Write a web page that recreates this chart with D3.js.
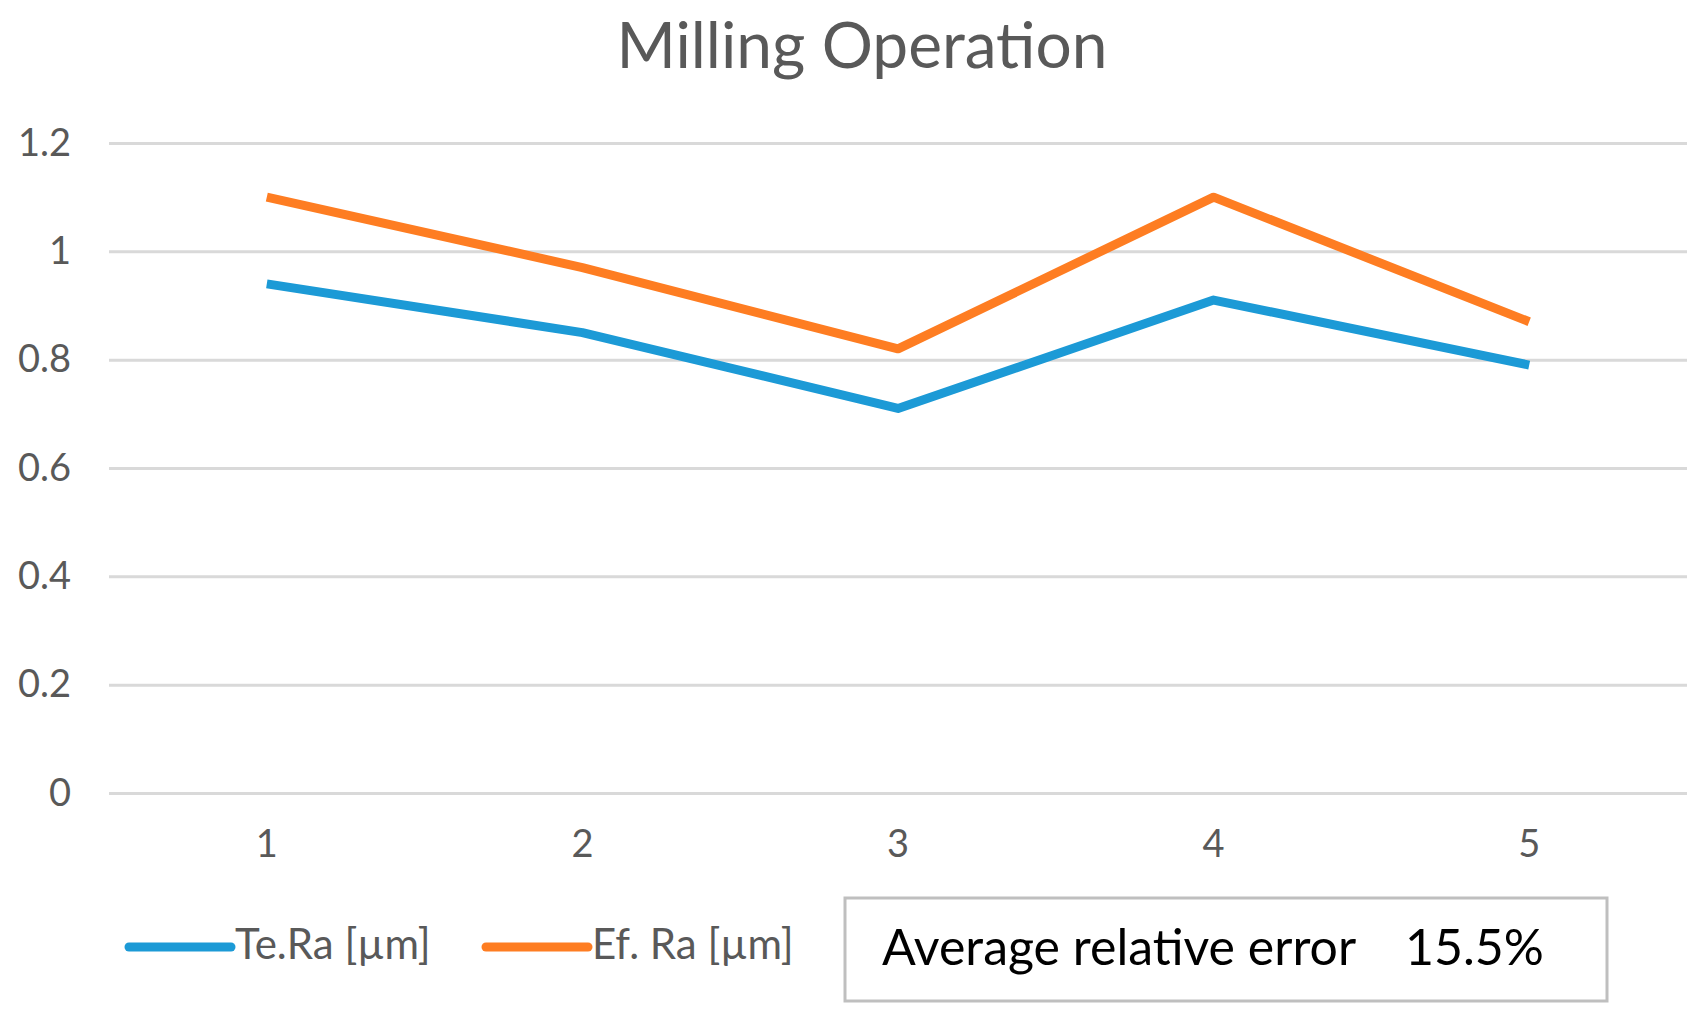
<!DOCTYPE html>
<html>
<head>
<meta charset="utf-8">
<script src="https://cdn.jsdelivr.net/npm/d3@7"></script>
<style>
    html, body { margin: 0; padding: 0; background: #fff; }
    svg { display: block; font-family: Lato, "Liberation Sans", sans-serif; }
</style>
</head>
<body>
<div id="chart"></div>
<script>
// Chart data
const categories = ["1", "2", "3", "4", "5"];
const teRa = [0.94, 0.85, 0.71, 0.91, 0.79];
const efRa = [1.10, 0.97, 0.82, 1.10, 0.87];
const yTicks = [0, 0.2, 0.4, 0.6, 0.8, 1, 1.2];
const seriesNames = ["Te.Ra [µm]", "Ef. Ra [µm]"];
const chartTitle = "Milling Operation";
const errorLabel = "Average relative error";
const errorValue = "15.5%";

(function() {
    const width = 1703, height = 1027;
    const margin = { top: 143, right: 16, bottom: 234, left: 109 };
    const plotW = width - margin.left - margin.right;
    const plotH = height - margin.top - margin.bottom;

    const blue = "#1c9ad6";
    const orange = "#fe7d22";
    const textGray = "#595959";

    const svg = d3.select("#chart").append("svg")
        .attr("width", width)
        .attr("height", height);

    // Title
    svg.append("text")
        .attr("x", 862)
        .attr("y", 68)
        .attr("text-anchor", "middle")
        .attr("fill", textGray)
        .style("font-size", "64px")
        .text(chartTitle);

    const g = svg.append("g").attr("transform", `translate(${margin.left},${margin.top})`);

    // Scales
    const xScale = d3.scaleBand().domain(categories).range([0, plotW]);
    const yScale = d3.scaleLinear().domain([0, 1.2]).range([plotH, 0]);

    // Gridlines + y axis
    const yAxis = d3.axisLeft(yScale).tickValues(yTicks).tickSize(-plotW).tickPadding(38)
        .tickFormat(d3.format("~g"));
    const yAxisG = g.append("g").call(yAxis);
    yAxisG.select(".domain").remove();
    yAxisG.selectAll("line").attr("stroke", "#d9d9d9").attr("stroke-width", 3);
    yAxisG.selectAll("text")
        .attr("fill", textGray)
        .style("font-size", "38px")
        .style("font-family", "Lato, sans-serif");

    // X axis labels
    const xAxis = d3.axisBottom(xScale).tickSize(0).tickPadding(37);
    const xAxisG = g.append("g").attr("transform", `translate(0,${plotH})`).call(xAxis);
    xAxisG.select(".domain").remove();
    xAxisG.selectAll("text")
        .attr("fill", textGray)
        .style("font-size", "38px")
        .style("font-family", "Lato, sans-serif");

    // Lines
    const line = d3.line()
        .x((d, i) => xScale(categories[i]) + xScale.bandwidth() / 2)
        .y(d => yScale(d));

    [[teRa, blue], [efRa, orange]].forEach(([values, color]) => {
        g.append("path")
            .datum(values)
            .attr("fill", "none")
            .attr("stroke", color)
            .attr("stroke-width", 9)
            .attr("stroke-linejoin", "round")
            .attr("d", line);
    });

    // Legend
    const legendItems = [
        { name: seriesNames[0], color: blue, x: 129 },
        { name: seriesNames[1], color: orange, x: 486 }
    ];
    const legend = svg.append("g");
    legendItems.forEach(item => {
        legend.append("line")
            .attr("x1", item.x).attr("x2", item.x + 102)
            .attr("y1", 947).attr("y2", 947)
            .attr("stroke", item.color)
            .attr("stroke-width", 9)
            .attr("stroke-linecap", "round");
        legend.append("text")
            .attr("x", item.x + 106)
            .attr("y", 959)
            .attr("fill", textGray)
            .style("font-size", "42px")
            .text(item.name);
    });

    // Error box
    svg.append("rect")
        .attr("x", 845).attr("y", 898)
        .attr("width", 762).attr("height", 103)
        .attr("fill", "none")
        .attr("stroke", "#bfbfbf")
        .attr("stroke-width", 3);
    svg.append("text")
        .attr("x", 882).attr("y", 965)
        .attr("fill", "#000")
        .style("font-size", "50px")
        .text(errorLabel);
    svg.append("text")
        .attr("x", 1405).attr("y", 965)
        .attr("fill", "#000")
        .style("font-size", "50px")
        .text(errorValue);
})();
</script>
</body>
</html>
